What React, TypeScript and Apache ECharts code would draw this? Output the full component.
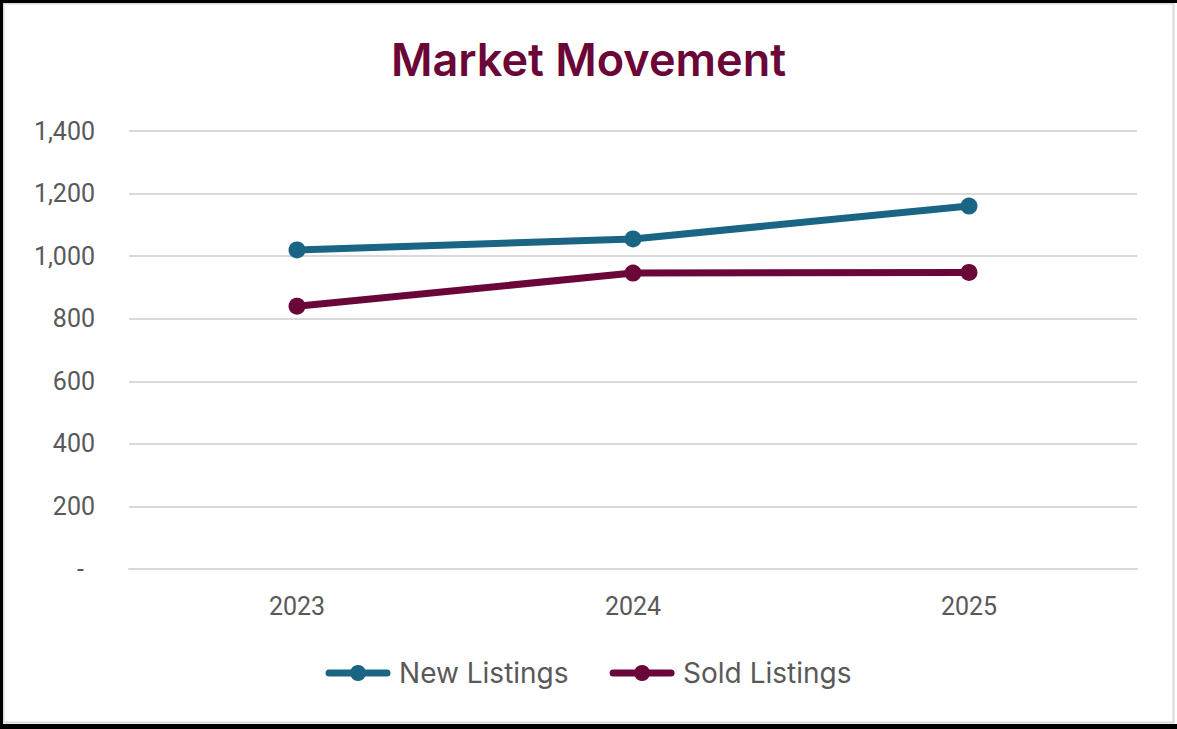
import React, { useEffect, useRef } from "react";
import * as echarts from "echarts";

const categories = ["2023", "2024", "2025"];
const newListings = [1020, 1055, 1160];
const soldListings = [840, 946, 948];
const yTicks = { min: 0, max: 1400, interval: 200 };

const BLUE = "#1B6584";
const MAROON = "#6B0638";
const GRAY_TEXT = "#595959";

export default function App() {
  const ref = useRef<HTMLDivElement>(null);
  useEffect(() => {
    if (!ref.current) return;
    const chart = echarts.init(ref.current, null, { renderer: "svg" });
    chart.setOption({
      animation: false,
      backgroundColor: "#ffffff",
      title: {
        text: "Market Movement",
        left: "center",
        top: 32,
        textStyle: {
          fontFamily: "Inter",
          fontSize: 45,
          fontWeight: 600,
          color: MAROON,
        },
      },
      legend: {
        top: 654,
        left: "center",
        itemWidth: 58,
        itemHeight: 20,
        itemGap: 41,
        lineStyle: { width: 7, cap: "round" },
        textStyle: { fontFamily: "Inter", fontSize: 28, color: GRAY_TEXT, padding: [0, 0, 0, 7] },
        data: ["New Listings", "Sold Listings"],
      },
      grid: { left: 129, right: 40, top: 131, bottom: 160, containLabel: false },
      xAxis: {
        type: "category",
        data: categories,
        boundaryGap: true,
        axisLine: { show: true, lineStyle: { color: "#d9d9d9", width: 2 } },
        axisTick: { show: false },
        axisLabel: {
          margin: 25,
          fontFamily: "Roboto",
          fontSize: 25,
          color: GRAY_TEXT,
        },
      },
      yAxis: {
        type: "value",
        min: yTicks.min,
        max: yTicks.max,
        interval: yTicks.interval,
        axisLine: { show: false },
        axisTick: { show: false },
        splitLine: { lineStyle: { color: "#d9d9d9", width: 2 } },
        axisLabel: {
          margin: 34,
          fontFamily: "Roboto",
          fontSize: 25,
          color: GRAY_TEXT,
          formatter: (v: number) =>
            v === 0 ? "{d|-}" : v.toLocaleString("en-US"),
          rich: {
            d: { fontFamily: "Roboto", fontSize: 25, color: GRAY_TEXT, padding: [0, 11, 0, 0] },
          },
        },
      },
      series: [
        {
          name: "New Listings",
          type: "line",
          data: newListings,
          symbol: "circle",
          symbolSize: 17,
          lineStyle: { color: BLUE, width: 7, cap: "round" },
          itemStyle: { color: BLUE },
        },
        {
          name: "Sold Listings",
          type: "line",
          data: soldListings,
          symbol: "circle",
          symbolSize: 17,
          lineStyle: { color: MAROON, width: 7, cap: "round" },
          itemStyle: { color: MAROON },
        },
      ],
      graphic: [
        { type: "rect", z: -10, silent: true, shape: { x: 3.5, y: 3.5, width: 1170, height: 719 }, style: { fill: "none", stroke: "#d9d9d9", lineWidth: 2 } },
        { type: "rect", z: 100, silent: true, shape: { x: 0, y: 0, width: 1177, height: 3 }, style: { fill: "#000" } },
        { type: "rect", z: 100, silent: true, shape: { x: 0, y: 0, width: 3, height: 729 }, style: { fill: "#000" } },
        { type: "rect", z: 100, silent: true, shape: { x: 0, y: 724, width: 1177, height: 5 }, style: { fill: "#000" } },
      ],
    });
    return () => chart.dispose();
  }, []);
  return (
    <div
      ref={ref}
      style={{ position: "absolute", left: 0, top: 0, width: 1177, height: 729 }}
    />
  );
}
